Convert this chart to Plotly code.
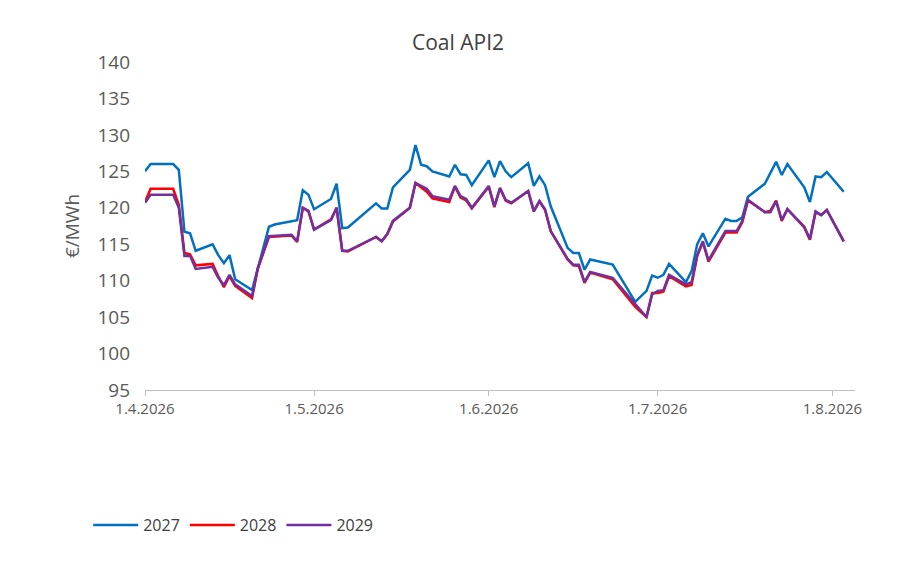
import pandas as pd
import plotly.graph_objects as go

# Day offsets from 1.4.2026 and prices (EUR/MWh).
days_2027 = [0, 1, 5, 6, 7, 8, 9, 12, 13, 14, 15, 16, 19, 20, 22, 23, 27, 28, 29, 30,
             33, 34, 35, 36, 41, 42, 43, 44, 47, 48, 49, 50, 51, 54, 55, 56, 57, 58,
             61, 62, 63, 64, 65, 68, 69, 70, 71, 72, 75, 76, 77, 78, 79, 83, 87, 89,
             90, 91, 92, 93, 96, 97, 98, 99, 100, 103, 104, 105, 106, 107, 110, 112,
             113, 114, 117, 118, 119, 120, 121, 124]
vals_2027 = [125.0, 126.0, 126.0, 125.2, 116.7, 116.5, 114.1, 115.0, 113.5, 112.4, 113.5,
             110.2, 108.7, 111.7, 117.4, 117.7, 118.3, 122.4, 121.8, 119.8,
             121.2, 123.3, 117.2, 117.3, 120.6, 119.9, 119.9, 122.8, 125.2, 128.6,
             125.9, 125.7, 125.0, 124.3, 125.9, 124.6, 124.5, 123.1,
             126.5, 124.2, 126.4, 125.0, 124.2, 126.1, 123.0, 124.3, 123.1, 120.2,
             114.5, 113.8, 113.8, 111.5, 112.9, 112.2, 107.1, 108.6,
             110.7, 110.4, 110.8, 112.3, 109.8, 111.3, 115.0, 116.5, 114.7,
             118.5, 118.2, 118.2, 118.7, 121.5, 123.3, 126.3,
             124.5, 126.0, 122.8, 120.8, 124.3, 124.2, 124.9, 122.2]

days_2028_29 = [0, 1, 5, 6, 7, 8, 9, 12, 13, 14, 15, 16, 19, 20, 22, 26, 27, 28, 29, 30,
                33, 34, 35, 36, 41, 42, 43, 44, 47, 48, 50, 51, 54, 55, 56, 57, 58,
                61, 62, 63, 64, 65, 68, 69, 70, 71, 72, 75, 76, 77, 78, 79, 83, 87, 89,
                90, 91, 92, 93, 96, 97, 98, 99, 100, 103, 105, 106, 107, 110, 111, 112,
                113, 114, 117, 118, 119, 120, 121, 124]
vals_2028 = [120.8, 122.6, 122.6, 120.4, 113.8, 113.6, 112.1, 112.3, 110.6, 109.1, 110.6,
             109.3, 107.6, 111.6, 116.0, 116.2, 115.3, 120.0, 119.5, 117.0,
             118.4, 120.0, 114.1, 114.0, 116.0, 115.4, 116.4, 118.1, 120.0, 123.4,
             122.2, 121.3, 120.8, 122.9, 121.4, 121.0, 119.9,
             122.9, 120.1, 122.7, 121.0, 120.6, 122.3, 119.5, 120.9, 119.7, 116.8,
             112.9, 112.1, 112.0, 109.7, 111.1, 110.2, 106.4, 105.0,
             108.3, 108.3, 108.5, 110.6, 109.2, 109.4, 113.4, 115.3, 112.6,
             116.6, 116.6, 118.0, 121.0, 119.4, 119.6, 121.0,
             118.2, 119.8, 117.3, 115.6, 119.4, 119.0, 119.7, 115.4]
vals_2029 = [120.7, 121.8, 121.8, 120.0, 113.4, 113.4, 111.6, 111.9, 110.4, 109.4, 110.8,
             109.5, 107.9, 111.7, 116.1, 116.3, 115.4, 120.0, 119.6, 117.0,
             118.3, 120.0, 114.1, 114.1, 116.0, 115.4, 116.4, 118.2, 120.0, 123.4,
             122.6, 121.6, 121.1, 123.0, 121.6, 121.2, 120.0,
             123.0, 120.2, 122.7, 121.1, 120.7, 122.3, 119.5, 120.9, 119.8, 116.8,
             113.0, 112.2, 112.2, 109.8, 111.2, 110.4, 106.8, 105.0,
             108.1, 108.6, 108.7, 110.8, 109.5, 109.8, 113.5, 115.4, 112.8,
             116.8, 116.8, 118.2, 121.1, 119.4, 119.4, 120.9,
             118.3, 119.8, 117.4, 115.7, 119.5, 119.0, 119.7, 115.4]

start = pd.Timestamp("2026-04-01")
d27 = start + pd.to_timedelta(days_2027, unit="D")
d2829 = start + pd.to_timedelta(days_2028_29, unit="D")

tick_dates = ["2026-04-01", "2026-05-01", "2026-06-01", "2026-07-01", "2026-08-01"]
tick_labels = ["1.4.2026", "1.5.2026", "1.6.2026", "1.7.2026", "1.8.2026"]

fig = go.Figure()
fig.add_trace(go.Scatter(x=d27, y=vals_2027, name="2027", mode="lines",
                         line=dict(color="#0070C0", width=2.5)))
fig.add_trace(go.Scatter(x=d2829, y=vals_2028, name="2028", mode="lines",
                         line=dict(color="#FF0000", width=2.5)))
fig.add_trace(go.Scatter(x=d2829, y=vals_2029, name="2029", mode="lines",
                         line=dict(color="#7030A0", width=2.5)))

fig.update_layout(
    width=900, height=573,
    paper_bgcolor="white", plot_bgcolor="white",
    font=dict(family="Open Sans", color="#595959"),
    title=dict(text="Coal API2", x=0.5, xanchor="center", y=0.94, yanchor="middle",
               font=dict(size=21, color="#404040")),
    margin=dict(l=137, r=53, t=54, b=191, autoexpand=False),
    legend=dict(orientation="h", x=-0.08, y=-0.36, xanchor="left",
                font=dict(size=16, color="#404040"), itemwidth=45),
    xaxis=dict(range=["2026-04-01", "2026-08-05"], tickvals=tick_dates,
               ticktext=tick_labels, showgrid=False, showline=True,
               linecolor="#BFBFBF", ticks="outside", tickcolor="#BFBFBF",
               ticklen=5, tickfont=dict(size=15), automargin=False),
    yaxis=dict(range=[95, 140], dtick=5, showgrid=False, zeroline=False,
               title=dict(text="€/MWh", font=dict(size=19), standoff=12),
               tickfont=dict(size=19), ticklabelstandoff=14, automargin=False),
)

fig.write_html("out.html")
